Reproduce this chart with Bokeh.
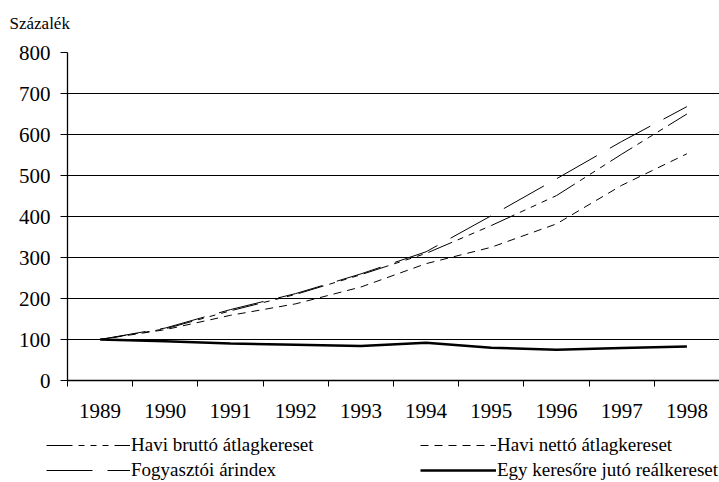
from bokeh.plotting import figure
from bokeh.models import Range1d, FixedTicker, Legend, LegendItem, Label
from bokeh.layouts import column
from bokeh.embed import file_html
from bokeh.resources import INLINE

years = ["1989", "1990", "1991", "1992", "1993", "1994", "1995", "1996", "1997", "1998"]
brutto = [100, 126, 170, 210, 258, 310, 378, 451, 552, 650]
netto = [100, 124, 159, 187, 228, 285, 325, 382, 476, 553]
fogy = [100, 128, 173, 212, 260, 314, 402, 492, 583, 668]
real = [100, 96, 90, 87, 84, 92, 80, 75, 79, 83]
yticks = [0, 100, 200, 300, 400, 500, 600, 700, 800]

labels = {
    "brutto": "Havi bruttó átlagkereset",
    "netto": "Havi nettó átlagkereset",
    "fogy": "Fogyasztói árindex",
    "real": "Egy keresőre jutó reálkereset",
}
ylabel = "Százalék"

FONT = "Liberation Serif"
xs = list(range(len(years)))
series = {"brutto": brutto, "netto": netto, "fogy": fogy, "real": real}
keys = ["brutto", "netto", "fogy", "real"]

styles = {
    "brutto": dict(line_color="black", line_width=1, line_dash="26 6 6 6 6 6 6 6"),
    "netto": dict(line_color="black", line_width=1, line_dash="8 6"),
    "fogy": dict(line_color="black", line_width=1, line_dash="46 15"),
    "real": dict(line_color="black", line_width=2.5),
}


def strip(h):
    f = figure(width=719, height=h, output_backend="svg", toolbar_location=None,
               x_axis_location=None, y_axis_location=None,
               min_border_left=0, min_border_right=0, min_border_top=0, min_border_bottom=0)
    f.frame_align = False
    f.outline_line_color = None
    f.xgrid.grid_line_color = None
    f.ygrid.grid_line_color = None
    return f


# strip above the chart holding the unit label
r = strip(40)
r.x_range = Range1d(0, 719)
r.y_range = Range1d(0, 40)
r.add_layout(Label(x=9, y=17, text=ylabel, text_font=FONT, text_font_size="17px",
                   text_color="black", text_baseline="alphabetic"))

# main chart
p = figure(width=719, height=390, output_backend="svg", toolbar_location=None,
           x_range=Range1d(-0.5, len(years) - 0.5), y_range=Range1d(0, 800),
           min_border_left=67, min_border_right=0, min_border_top=12, min_border_bottom=50)
p.frame_align = False
p.outline_line_color = None
p.background_fill_color = "white"

p.xaxis.ticker = FixedTicker(ticks=xs, minor_ticks=[i - 0.5 for i in range(len(years) + 1)])
p.xaxis.major_label_overrides = {i: y for i, y in enumerate(years)}
p.xaxis.major_tick_out = 0
p.xaxis.major_tick_in = 0
p.xaxis.minor_tick_out = 6
p.xaxis.minor_tick_in = 0
p.xaxis.minor_tick_line_color = "black"
p.xaxis.major_label_standoff = 17
p.xaxis.major_label_text_font = FONT
p.xaxis.major_label_text_font_size = "21px"
p.xaxis.major_label_text_color = "black"
p.xaxis.axis_line_color = "black"
p.xaxis.axis_line_width = 1.3

p.yaxis.ticker = FixedTicker(ticks=yticks)
p.yaxis.major_tick_out = 7
p.yaxis.major_tick_in = 0
p.yaxis.major_tick_line_color = "black"
p.yaxis.minor_tick_line_color = None
p.yaxis.major_label_standoff = 10
p.yaxis.major_label_text_font = FONT
p.yaxis.major_label_text_font_size = "21px"
p.yaxis.major_label_text_color = "black"
p.yaxis.axis_line_color = "black"
p.yaxis.axis_line_width = 1.3

p.xgrid.grid_line_color = None
p.ygrid.ticker = FixedTicker(ticks=yticks)
p.ygrid.grid_line_color = "black"
p.ygrid.grid_line_width = 1

for k in keys:
    p.line(xs, series[k], **styles[k])

# legend strip below the chart (its lines lie outside this strip's view)
q = strip(52)
q.x_range = Range1d(-0.5, len(years) - 0.5)
q.y_range = Range1d(2000, 2001)
rend = {k: q.line(xs, series[k], **styles[k]) for k in keys}

common = dict(glyph_height=20, label_height=20, label_standoff=1,
              spacing=3, padding=0, margin=0, border_line_color=None,
              background_fill_alpha=0, label_text_font=FONT,
              label_text_font_size="19px", label_text_color="black")
q.add_layout(Legend(items=[LegendItem(label=labels["brutto"], renderers=[rend["brutto"]]),
                           LegendItem(label=labels["fogy"], renderers=[rend["fogy"]])],
                    location=(46, 1), glyph_width=84, **common))
q.add_layout(Legend(items=[LegendItem(label=labels["netto"], renderers=[rend["netto"]]),
                           LegendItem(label=labels["real"], renderers=[rend["real"]])],
                    location=(420, 1), glyph_width=76, **common))

open("out.html", "w").write(file_html(column(r, p, q), INLINE))
